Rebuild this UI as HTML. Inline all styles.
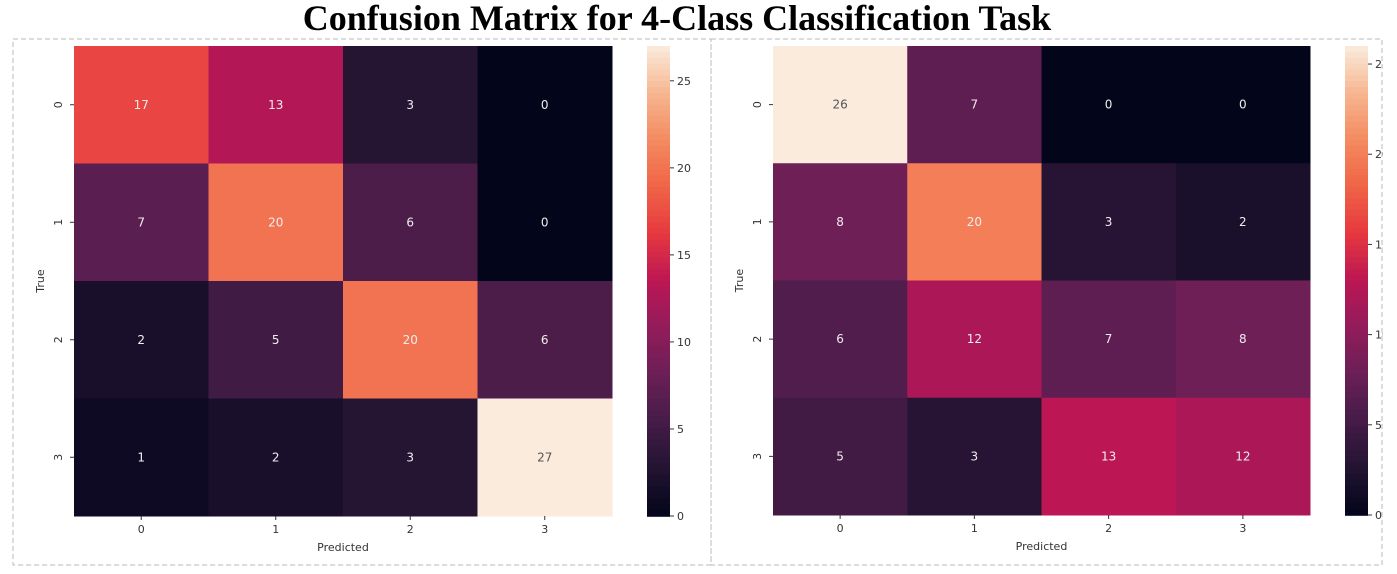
<!DOCTYPE html>
<html><head><meta charset="utf-8"><style>
body{margin:0;background:#fff;width:1397px;height:569px;overflow:hidden}
svg text{font-family:"DejaVu Sans","Liberation Sans",sans-serif}
</style></head><body>
<svg id="c" width="1397" height="569" xmlns="http://www.w3.org/2000/svg">
<text x="677" y="30" text-anchor="middle" font-family="Liberation Serif" font-weight="bold" font-size="36" style="font-family:'Liberation Serif',serif">Confusion Matrix for 4-Class Classification Task</text>
<rect x="13" y="39" width="698" height="526" fill="none" stroke="#bbb" stroke-dasharray="5,3"/>
<rect x="711" y="39" width="671" height="526" fill="none" stroke="#bbb" stroke-dasharray="5,3"/>
</svg>
<script>
const classes=["0","1","2","3"];
const leftValues=[[17,13,3,0],[7,20,6,0],[2,5,20,6],[1,2,3,27]];
const rightValues=[[26,7,0,0],[8,20,3,2],[6,12,7,8],[5,3,13,12]];
const cbTicks=[0,5,10,15,20,25];
const stops=[[0,[3,5,26]],[0.1,[34,19,49]],[0.2,[69,28,71]],[0.3,[106,31,86]],[0.4,[146,28,91]],[0.5,[188,22,84]],[0.6,[230,56,64]],[0.7,[240,100,70]],[0.8,[244,138,96]],[0.9,[246,182,144]],[1,[250,235,221]]];
function cmap(t){t=Math.max(0,Math.min(1,t));for(let i=1;i<stops.length;i++){if(t<=stops[i][0]){const a=stops[i-1],b=stops[i],f=(t-a[0])/(b[0]-a[0]);return a[1].map((v,k)=>Math.round(v+(b[1][k]-v)*f));}}return stops[stops.length-1][1];}
const svg=document.getElementById('c');const NS="http://www.w3.org/2000/svg";
function el(t,a,txt){const e=document.createElementNS(NS,t);for(const k in a)e.setAttribute(k,a[k]);if(txt!==undefined)e.textContent=txt;svg.appendChild(e);return e;}
function draw(vals,x0,x1,y0,y1,cbx,side){
 const max=Math.max(...vals.flat());const cw=(x1-x0)/4,ch=(y1-y0)/4;
 const xs=i=>x0+i*cw, ys=j=>y0+j*ch;
 vals.forEach((row,r)=>row.forEach((v,c)=>{const col=cmap(v/max);
  const rc=el('rect',{x:xs(c),y:ys(r),width:cw+0.5,height:ch+0.5,fill:`rgb(${col})`});
  
  
  const lum=(0.2126*col[0]+0.7152*col[1]+0.0722*col[2])/255;
  const tx=el('text',{x:xs(c)+cw/2,y:ys(r)+ch/2+4,'text-anchor':'middle','font-size':12,fill:lum>0.6?'#555':'#eee'},String(v));
  
  
 }));
 classes.forEach((c,i)=>{
  el('line',{x1:xs(i)+cw/2,x2:xs(i)+cw/2,y1:y1,y2:y1+4,stroke:'#333'});
  const t=el('text',{x:xs(i)+cw/2,y:y1+17,'text-anchor':'middle','font-size':11,fill:'#333'},c);
  
  
  el('line',{x1:x0-4,x2:x0,y1:ys(i)+ch/2,y2:ys(i)+ch/2,stroke:'#333'});
  const cy=ys(i)+ch/2;
  const t2=el('text',{x:x0-12,y:cy,'text-anchor':'middle','font-size':11,fill:'#333',transform:`rotate(-90 ${x0-12} ${cy})`},c);
  
  
 });
 const xl=el('text',{x:(x0+x1)/2,y:y1+35,'text-anchor':'middle','font-size':11,fill:'#333'},'Predicted');
 
 
 const ym=(y0+y1)/2;
 const yl=el('text',{x:x0-30,y:ym,'text-anchor':'middle','font-size':11,fill:'#333',transform:`rotate(-90 ${x0-30} ${ym})`},'True');
 
 
 const n=80,h=(y1-y0)/n;
 for(let k=0;k<n;k++){const col=cmap(1-(k+0.5)/n);el('rect',{x:cbx,y:y0+k*h,width:23,height:h+0.8,fill:`rgb(${col})`});}
 const cbv=v=>y1-(v/max)*(y1-y0);
 cbTicks.forEach(v=>{el('line',{x1:cbx+23,x2:cbx+27,y1:cbv(v),y2:cbv(v),stroke:'#333'});
  const t=el('text',{x:cbx+30,y:cbv(v)+4,'font-size':11,fill:'#333'},String(v));
  
  });
}
draw(leftValues,74,612,46,516,647,'left');
draw(rightValues,773,1310,46,515,1345,'right');
const m=el('rect',{x:1383,y:0,width:14,height:569,fill:'#fff'});
</script>
</body></html>
